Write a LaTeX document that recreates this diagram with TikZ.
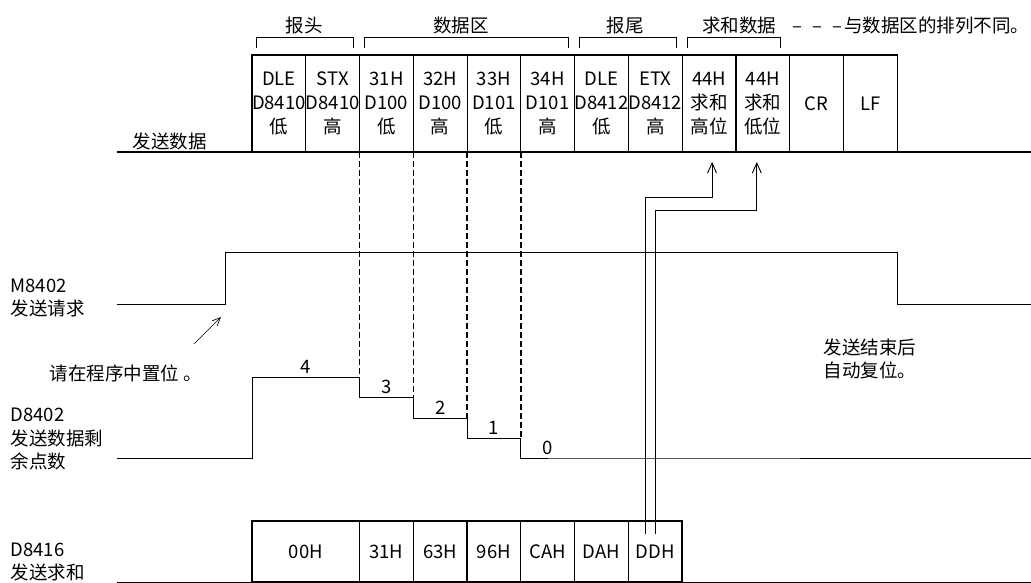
\documentclass[tikz,border=0pt]{standalone}
\usepackage{fontspec}
\setmainfont{Noto Sans CJK SC}
\usetikzlibrary{arrows.meta,positioning,calc}

\begin{document}
\begin{tikzpicture}[
        x=1pt, y=-1pt,
        font=\fontsize{18.5}{24}\selectfont,
        line width=1pt,
        node distance=0pt,
        cell/.style={rectangle, draw, line width=1.2pt, minimum width=53.75pt, minimum height=97pt,
                     inner sep=0pt, outer sep=0pt, align=center},
        sumcell/.style={cell, minimum height=61pt},
        sigtext/.style={align=left, anchor=west, inner sep=0pt, font=\fontsize{18.5}{23.5}\selectfont},
        stepval/.style={above=3pt, inner sep=0pt},
        tapline/.style={line width=1.3pt, dash pattern=on 6pt off 3pt},
        arrow/.style={-{Straight Barb[length=10pt, width=9pt]}, line width=0.9pt},
        pointer/.style={-{Straight Barb[length=8pt, width=7pt]}, line width=0.7pt}
    ]
        \useasboundingbox (0,0) rectangle (1031,583);

        % send frame
        \node[cell, anchor=north west] (c1) at (252,55) {DLE\\D8410\\低};
        \node[cell, right=of c1] (c2) {STX\\D8410\\高};
        \node[cell, right=of c2] (c3) {31H\\D100\\低};
        \node[cell, right=of c3] (c4) {32H\\D100\\高};
        \node[cell, right=of c4] (c5) {33H\\D101\\低};
        \node[cell, right=of c5] (c6) {34H\\D101\\高};
        \node[cell, right=of c6] (c7) {DLE\\D8412\\低};
        \node[cell, right=of c7] (c8) {ETX\\D8412\\高};
        \node[cell, right=of c8] (c9) {44H\\求和\\高位};
        \node[cell, right=of c9] (c10) {44H\\求和\\低位};
        \node[cell, right=of c10] (c11) {CR};
        \node[cell, right=of c11] (c12) {LF};
        \draw[line width=1.2pt] (117,152) -- (1031,152);

        % groups
        \draw (256,48) |- (353,38) -- (353,48);
        \draw (364,48) |- (568,38) -- (568,48);
        \draw (579,48) |- (676,38) -- (676,48);
        \draw (687,48) |- (780,38) -- (780,48);
        \node (head) at (304,25) {报头};
        \node (data) at (461,25) {数据区};
        \node (tail) at (625,25) {报尾};
        \node (sum) at (739,25) {求和数据};
        \node[anchor=west, inner sep=0pt] (order) at (792,25) {–\hspace{10pt}–\hspace{10pt}–\hspace{2pt}与数据区的排列不同。};

        % signal names
        \node[sigtext] (sendlbl) at (132,141) {发送数据};
        \node[sigtext] (req) at (10,298) {M8402\\发送请求};
        \node[sigtext] (rest) at (10,439) {D8402\\发送数据剩\\余点数};
        \node[sigtext] (chk) at (10,562) {D8416\\发送求和};
        \node[sigtext] (setnote) at (49,373) {请在程序中置位 。};
        \node[sigtext] (endnote) at (823,359) {发送结束后\\自动复位。};

        % M8402
        \draw (117,304) -| (225,252) -| (897,304) -- (1031,304);
        \coordinate (setFrom) at (194,344);
        \coordinate (setTo) at (221,317);
        \draw[pointer] (setFrom) -- (setTo);

        % D8402 count down
        \coordinate (s4) at (c3.south west |- 0,377);
        \coordinate (s3) at (c4.south west |- 0,397);
        \coordinate (s2) at (c5.south west |- 0,418);
        \coordinate (s1) at (c6.south west |- 0,438);
        \draw (117,458) -| (252,377) -- node[stepval] {4} (s4)
              |- node[stepval, pos=0.75] {3} (s3)
              |- node[stepval, pos=0.75] {2} (s2)
              |- node[stepval, pos=0.75] {1} (s1)
              |- node[stepval, pos=0.75] {0} (c7.south west |- 0,458) -- (1031,458);
        \draw[tapline] (c3.south west) -- (s4);
        \draw[tapline] (c4.south west) -- (s3);
        \draw[tapline] (c5.south west) -- (s2);
        \draw[tapline] (c6.south west) -- (s1);

        % D8416 sum
        \node[sumcell, minimum width=107.5pt, anchor=north west] (b1) at (252,521) {00H};
        \node[sumcell, right=of b1] (b2) {31H};
        \node[sumcell, right=of b2] (b3) {63H};
        \node[sumcell, right=of b3] (b4) {96H};
        \node[sumcell, right=of b4] (b5) {CAH};
        \node[sumcell, right=of b5] (b6) {DAH};
        \node[sumcell, right=of b6] (b7) {DDH};
        \draw (117,582) -- (1031,582);

        \coordinate (hiFrom) at ($(b7.north)+(-10,13)$);
        \coordinate (loFrom) at ($(b7.north)+(0,13)$);
        \coordinate (hiTip) at ($(c9.south)+(3,10)$);
        \coordinate (loTip) at ($(c10.south)+(-6,10)$);
        \draw[arrow] (hiFrom) |- ($(hiTip)+(0,35)$) -- (hiTip);
        \draw[arrow] (loFrom) |- ($(loTip)+(0,48)$) -- (loTip);
    \end{tikzpicture}
\end{document}
